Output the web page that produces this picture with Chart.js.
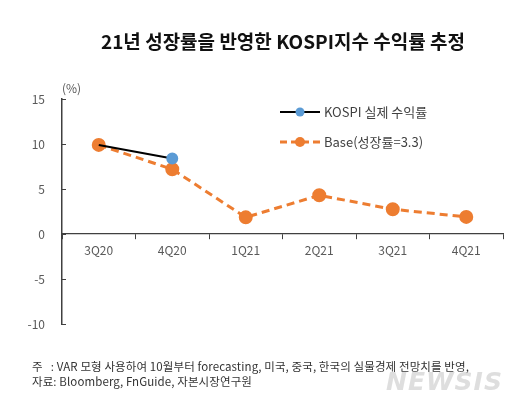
<!DOCTYPE html>
<html><head><meta charset="utf-8">
<script src="https://cdn.jsdelivr.net/npm/chart.js@4/dist/chart.umd.min.js"></script>
<style>
html,body{margin:0;padding:0;background:#fff;}
#wrap{position:relative;width:530px;height:410px;overflow:hidden;font-family:"Noto Sans CJK KR","Noto Sans",sans-serif;}
#title{position:absolute;left:0;width:566px;top:27px;text-align:center;font-weight:bold;font-size:19px;color:#111;letter-spacing:0px;}
#note{position:absolute;left:32px;top:359px;font-size:11.5px;line-height:15px;color:#333;white-space:nowrap;letter-spacing:0.1px;}
#wm{position:absolute;left:386px;top:367px;font-family:"DejaVu Sans";font-weight:bold;font-style:italic;font-size:25px;color:rgba(200,200,200,0.6);letter-spacing:1px;}
canvas{position:absolute;left:0;top:0;}
</style></head>
<body><div id="wrap">
<canvas id="c" width="530" height="410"></canvas>
<div id="title">21년 성장률을 반영한 KOSPI지수 수익률 추정</div>
<div id="note">주&nbsp;&nbsp;&nbsp;: VAR 모형 사용하여 10월부터 forecasting, 미국, 중국, 한국의 실물경제 전망치를 반영,<br>자료: Bloomberg, FnGuide, 자본시장연구원</div>
<div id="wm">NEWSIS</div>
</div>
<script>
const categories = ["3Q20","4Q20","1Q21","2Q21","3Q21","4Q21"];
const kospiActual = [9.9, 8.4, null, null, null, null];
const baseCase = [9.9, 7.2, 1.85, 4.3, 2.75, 1.9];
const yTicks = [-10, -5, 0, 5, 10, 15];
const seriesNames = ["KOSPI 실제 수익률", "Base(성장률=3.3)"];

const FONT = '"Noto Sans CJK KR","Noto Sans",sans-serif';
const gray = '#595959';
const axisColor = '#404040';

const extras = {
  id: 'extras',
  afterDraw(chart) {
    const ctx = chart.ctx;
    const y = chart.scales.y;
    const left = y.right;
    ctx.save();
    ctx.strokeStyle = axisColor; ctx.lineWidth = 1;
    yTicks.forEach(v => {
      const py = Math.round(y.getPixelForValue(v)) + 0.5;
      ctx.beginPath(); ctx.moveTo(left, py); ctx.lineTo(left + 4, py); ctx.stroke();
    });
    ctx.fillStyle = gray; ctx.font = '12px ' + FONT; ctx.textBaseline = 'middle'; ctx.textAlign = 'left';
    ctx.fillText('(%)', left, y.getPixelForValue(15) - 11);
    const items = [
      {color: '#000', pt: '#5B9BD5', dash: [], w: 2, yy: 112, r: 4.5},
      {color: '#ED7D31', pt: '#ED7D31', dash: [7,4], w: 3, yy: 142, r: 5}
    ];
    items.forEach((it, i) => {
      ctx.strokeStyle = it.color; ctx.lineWidth = it.w; ctx.setLineDash(it.dash);
      ctx.beginPath(); ctx.moveTo(280, it.yy); ctx.lineTo(320, it.yy); ctx.stroke();
      ctx.setLineDash([]);
      ctx.fillStyle = it.pt; ctx.beginPath(); ctx.arc(300, it.yy, it.r, 0, Math.PI*2); ctx.fill();
      ctx.fillStyle = '#404040'; ctx.font = '13px ' + FONT; ctx.textAlign = 'left'; ctx.textBaseline = 'middle';
      ctx.fillText(seriesNames[i], 324, it.yy);
    });
    ctx.restore();
  }
};

new Chart(document.getElementById('c'), {
  type: 'line',
  data: {
    labels: categories,
    datasets: [
      {label: seriesNames[0], data: kospiActual, borderColor: '#000', borderWidth: 2,
       pointBackgroundColor: '#5B9BD5', pointBorderColor: '#5B9BD5', pointRadius: [0, 5, 0, 0, 0, 0], order: 0, spanGaps: false},
      {label: seriesNames[1], data: baseCase, borderColor: '#ED7D31', borderWidth: 3, borderDash: [8, 5],
       pointBackgroundColor: '#ED7D31', pointBorderColor: '#ED7D31', pointRadius: 5.5, order: 1}
    ]
  },
  options: {
    responsive: false, animation: false,
    layout: {padding: {left: 0, top: 99, right: 27, bottom: 86}},
    plugins: {legend: {display: false}, tooltip: {enabled: false}},
    scales: {
      x: {
        position: {y: 0},
        offset: true,
        afterFit(s) { s.height = 0; },
        border: {display: true, color: axisColor, width: 1.2},
        grid: {offset: true, drawOnChartArea: false, drawTicks: true, tickLength: 5, color: axisColor},
        ticks: {color: gray, font: {family: FONT, size: 12}, padding: 4, maxRotation: 0}
      },
      y: {
        min: -10, max: 15,
        afterFit(s) { s.width = 62; },
        afterBuildTicks(s) { s.ticks = yTicks.map(v => ({value: v})); },
        border: {display: true, color: axisColor, width: 1.5},
        grid: {display: false, drawTicks: false},
        ticks: {color: gray, font: {family: FONT, size: 12}, padding: 17}
      }
    }
  },
  plugins: [extras]
});
</script>
</body></html>
